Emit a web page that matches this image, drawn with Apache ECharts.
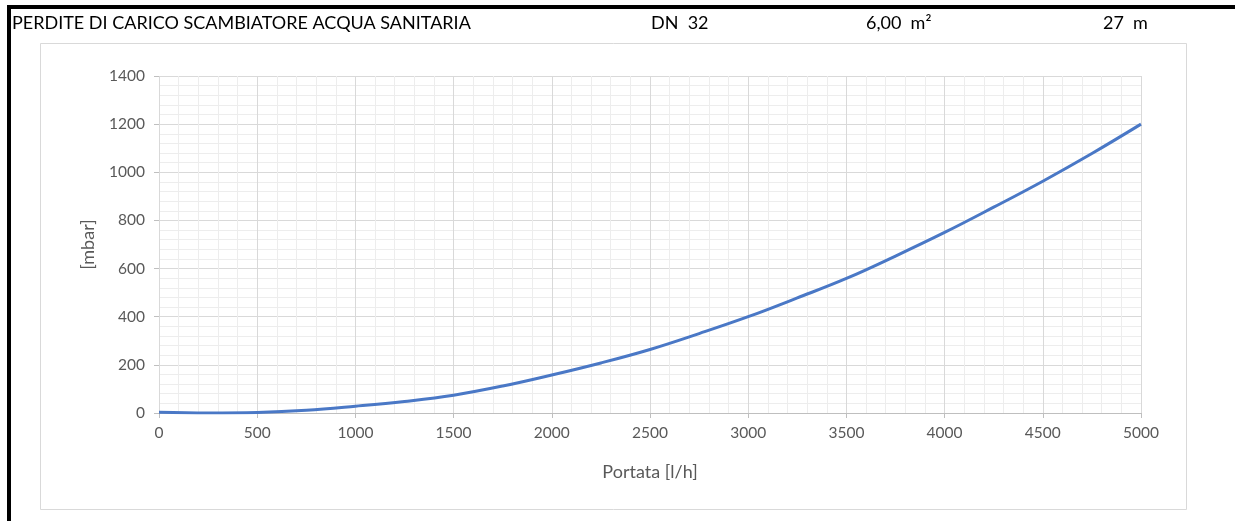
<!DOCTYPE html>
<html>
<head>
<meta charset="utf-8">
<script src="https://cdn.jsdelivr.net/npm/echarts@6/dist/echarts.min.js"></script>
<style>
html,body{margin:0;padding:0;background:#fff;}
#chart{width:1235px;height:521px;}
</style>
</head>
<body>
<div id="chart"></div>
<script>
// portata [l/h]
var portata = [0,250,500,750,1000,1250,1500,1750,2000,2250,2500,2750,3000,3250,3500,3750,4000,4250,4500,4750,5000];
// perdite [mbar]
var perdite = [3,0,2,11,28,48,74,112,158,208,264,330,400,478,559,652,750,855,963,1078,1200];
var xTicks = [0,500,1000,1500,2000,2500,3000,3500,4000,4500,5000];
var yTicks = [0,200,400,600,800,1000,1200,1400];
var header = ['PERDITE DI CARICO SCAMBIATORE ACQUA SANITARIA','DN  32','6,00  m²','27  m'];

var dom = document.getElementById("chart");
var myChart = echarts.init(dom, null, {renderer:'canvas'});

var font = 'Lato, "Open Sans", sans-serif';
var hfont = '18px ' + font;
var option = {
    animation: false,
    backgroundColor: '#fff',
    graphic: [
        // cornice esterna nera
        {type:'rect', shape:{x:8, y:5, width:1227, height:4}, style:{fill:'#000'}},
        {type:'rect', shape:{x:7, y:5, width:4, height:516}, style:{fill:'#000'}},
        // riquadro grafico
        {type:'rect', shape:{x:40.5, y:43.5, width:1146, height:466}, style:{fill:'none', stroke:'#d9d9d9', lineWidth:1}},
        {type:'text', left:12, top:14, style:{text:header[0], font:hfont, fill:'#000'}},
        {type:'text', left:651, top:14, style:{text:header[1], font:hfont, fill:'#000'}},
        {type:'text', left:866, top:14, style:{text:header[2], font:hfont, fill:'#000'}},
        {type:'text', left:1103, top:14, style:{text:header[3], font:hfont, fill:'#000'}}
    ],
    grid: {
        left: 159,
        right: 94,
        top: 76,
        bottom: 108,
        containLabel: false
    },
    xAxis: {
        type: 'value',
        min: xTicks[0],
        max: xTicks[xTicks.length-1],
        interval: 500,
        name: 'Portata [l/h]',
        nameLocation: 'middle',
        nameGap: 50,
        nameTextStyle: {fontSize: 18, color: '#595959', fontFamily: font},
        axisLine: {show: true, lineStyle: {color: '#bfbfbf', width: 1}},
        axisTick: {show: true, length: 5, lineStyle: {color: '#bfbfbf'}},
        axisLabel: {fontSize: 15.5, color: '#595959', fontFamily: font, margin: 12,
            formatter: function (v) { return String(v); }},
        splitLine: {show: true, lineStyle: {color: '#d9d9d9', width: 1}},
        minorTick: {show: false, splitNumber: 5},
        minorSplitLine: {show: true, lineStyle: {color: '#ededed', width: 1}}
    },
    yAxis: {
        type: 'value',
        min: yTicks[0],
        max: yTicks[yTicks.length-1],
        interval: 200,
        name: '[mbar]',
        nameLocation: 'middle',
        nameGap: 62,
        nameTextStyle: {fontSize: 18, color: '#595959', fontFamily: font},
        axisLine: {show: false},
        axisTick: {show: true, length: 5, lineStyle: {color: '#bfbfbf'}},
        axisLabel: {fontSize: 15.5, color: '#595959', fontFamily: font, margin: 14,
            formatter: function (v) { return String(v); }},
        splitLine: {show: true, lineStyle: {color: '#d9d9d9', width: 1}},
        minorTick: {show: false, splitNumber: 5},
        minorSplitLine: {show: true, lineStyle: {color: '#ededed', width: 1}}
    },
    series: [{
        type: 'line',
        data: portata.map(function (p, i) { return [p, perdite[i]]; }),
        smooth: 0.4,
        showSymbol: false,
        lineStyle: {color: '#4a78c6', width: 3},
        itemStyle: {color: '#4a78c6'}
    }]
};
myChart.setOption(option);
</script>
</body>
</html>
